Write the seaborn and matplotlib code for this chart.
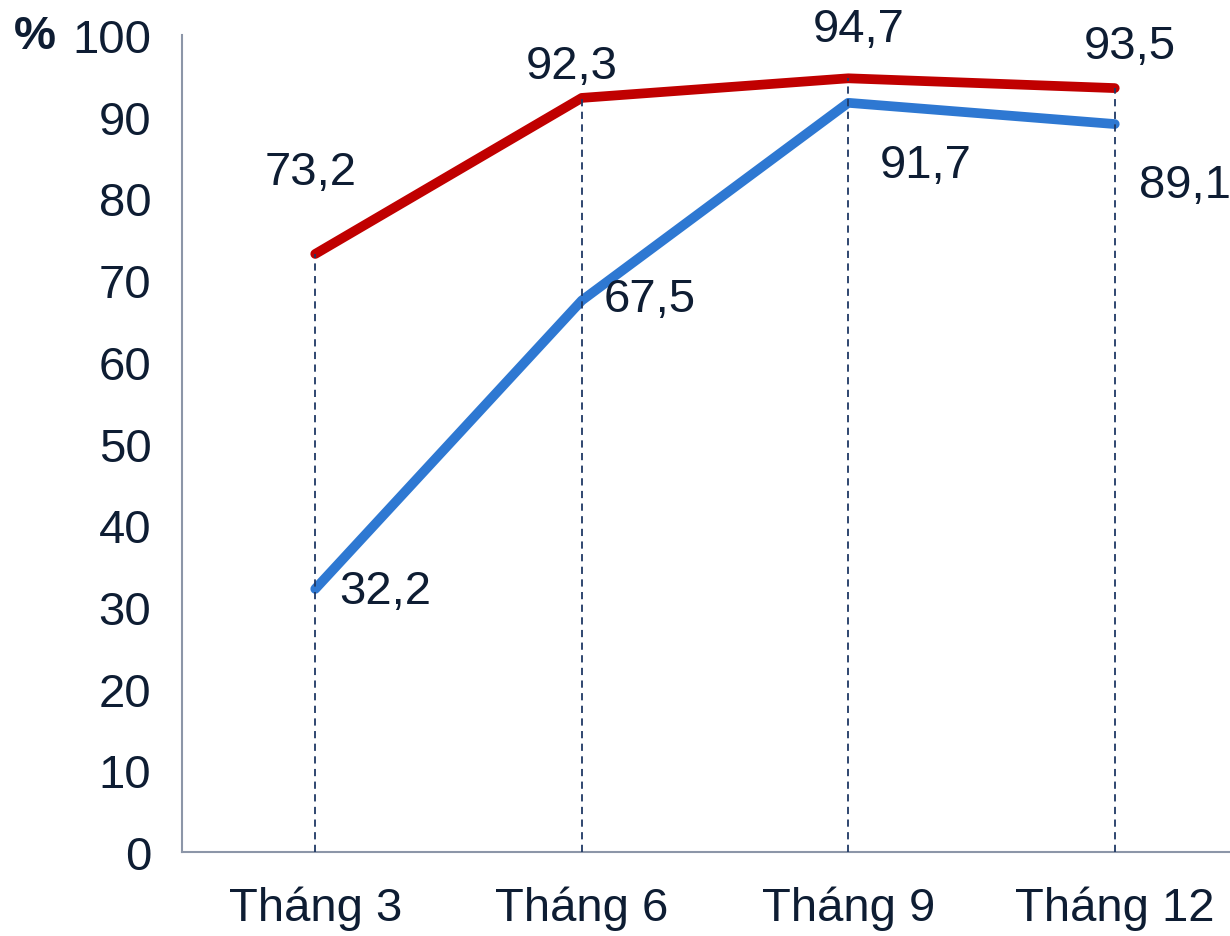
import matplotlib
matplotlib.use("Agg")
import matplotlib.pyplot as plt
import seaborn as sns
import pandas as pd

categories = ["Tháng 3", "Tháng 6", "Tháng 9", "Tháng 12"]
red_values = [73.2, 92.3, 94.7, 93.5]
blue_values = [32.2, 67.5, 91.7, 89.1]
red_labels = ["73,2", "92,3", "94,7", "93,5"]
blue_labels = ["32,2", "67,5", "91,7", "89,1"]
y_ticks = [0, 10, 20, 30, 40, 50, 60, 70, 80, 90, 100]

sns.set_style("white")
plt.rcParams['font.family'] = ['Liberation Sans', 'DejaVu Sans']

TXT = "#0e1d33"
RED = "#c00000"
BLUE = "#2e78d2"
FS = 34

fig = plt.figure(figsize=(12.30, 9.37), dpi=100)
W, H = 1230, 937
ax = fig.add_axes([182 / W, (H - 853) / H, (1248 - 182) / W, (853 - 36) / H])

x = list(range(len(categories)))
df = pd.DataFrame({"x": x * 2,
                   "y": red_values + blue_values,
                   "s": ["red"] * 4 + ["blue"] * 4})

sns.lineplot(data=df, x="x", y="y", hue="s", palette={"red": RED, "blue": BLUE},
             linewidth=7, legend=False, ax=ax, solid_capstyle="round", zorder=3)

ax.vlines(x, 0, red_values, colors="#1f3864", linestyles=(0, (4, 3)), linewidth=1.3, zorder=4)

red_off = [(-5, 82), (-10, 32), (10, 49), (15, 42)]
blue_off = [(70, -2), (68, 2), (77, -62), (70, -61)]
for i in x:
    ax.annotate(red_labels[i], (i, red_values[i]), xytext=red_off[i], textcoords="offset pixels",
                ha="center", va="center", fontsize=FS, color=TXT, annotation_clip=False)
    ax.annotate(blue_labels[i], (i, blue_values[i]), xytext=blue_off[i], textcoords="offset pixels",
                ha="center", va="center", fontsize=FS, color=TXT, annotation_clip=False)

ax.set_xlim(-0.5, 3.5)
ax.set_ylim(0, 100)
ax.set_xticks(x)
ax.set_xticklabels(categories)
ax.set_yticks(y_ticks)
ax.set_yticklabels([str(v) for v in y_ticks])
ax.tick_params(axis="y", length=0, pad=22, labelsize=FS, labelcolor=TXT)
ax.tick_params(axis="x", length=0, pad=24, labelsize=FS, labelcolor=TXT)
ax.set_xlabel("")
ax.set_ylabel("")

for side in ["top", "right"]:
    ax.spines[side].set_visible(False)
for side in ["left", "bottom"]:
    ax.spines[side].set_color("#8c96a8")
    ax.spines[side].set_linewidth(1.5)

fig.text(35 / W, 1 - 37 / H, "%", fontsize=FS, fontweight="bold", color=TXT, ha="center", va="center")

fig.savefig("out.png", dpi=100)
